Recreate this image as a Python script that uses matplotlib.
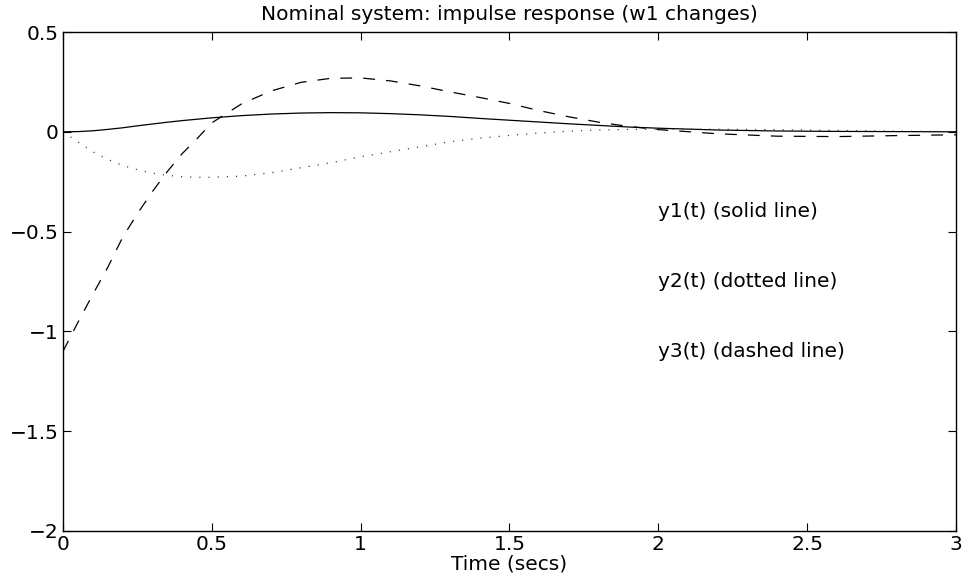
import matplotlib
matplotlib.use("Agg")
import matplotlib.pyplot as plt

# values
t = [0.0, 0.05, 0.1, 0.15, 0.2, 0.25, 0.3, 0.35, 0.4, 0.45, 0.5, 0.6, 0.7, 0.8,
     0.9, 1.0, 1.1, 1.2, 1.3, 1.4, 1.5, 1.6, 1.7, 1.8, 1.9, 2.0, 2.2, 2.4,
     2.6, 2.8, 3.0]

y1 = [0.0, 0.001, 0.005, 0.012, 0.02, 0.03, 0.039, 0.048, 0.056, 0.063, 0.07,
      0.081, 0.089, 0.094, 0.096, 0.095, 0.091, 0.085, 0.077, 0.067, 0.058,
      0.049, 0.04, 0.032, 0.024, 0.018, 0.009, 0.004, 0.002, 0.001, 0.0]

y2 = [0.0, -0.05, -0.1, -0.138, -0.168, -0.19, -0.207, -0.218, -0.225, -0.228,
      -0.228, -0.222, -0.205, -0.18, -0.155, -0.125, -0.1, -0.075, -0.05,
      -0.032, -0.018, -0.006, 0.003, 0.009, 0.012, 0.013, 0.013, 0.011, 0.007,
      0.003, 0.001]

y3 = [-1.1, -0.955, -0.815, -0.68, -0.53, -0.41, -0.3, -0.2, -0.11, -0.035,
      0.045, 0.14, 0.205, 0.248, 0.268, 0.27, 0.255, 0.23, 0.2, 0.172, 0.142,
      0.106, 0.075, 0.048, 0.027, 0.011, -0.01, -0.022, -0.024, -0.019, -0.015]

labels = ["y1(t) (solid line)", "y2(t) (dotted line)", "y3(t) (dashed line)"]
label_y = [-0.4, -0.75, -1.1]
xticks = [0, 0.5, 1, 1.5, 2, 2.5, 3]
yticks = [-2, -1.5, -1, -0.5, 0, 0.5]

plt.rcParams['font.family'] = ['DejaVu Sans']
plt.rcParams['font.size'] = 14.5
plt.rcParams['lines.scale_dashes'] = False

fig = plt.figure(figsize=(9.64, 5.77), dpi=100)
ax = fig.add_axes([63 / 964, 46 / 577, 893 / 964, 499 / 577])

ax.plot(t, y1, color='black', linewidth=0.9)
ax.plot(t, y2, color='0.2', linewidth=0.9, dashes=(0.8, 5.8))
ax.plot(t, y3, color='black', linewidth=0.9, dashes=(8.5, 8))

for txt, yy in zip(labels, label_y):
    ax.text(2.0, yy, txt, ha='left', va='center')

ax.set_xlim(0, 3)
ax.set_ylim(-2, 0.5)
ax.set_xticks(xticks)
ax.set_yticks(yticks)
ax.set_xticklabels(['0', '0.5', '1', '1.5', '2', '2.5', '3'])
ax.set_yticklabels(['\u22122', '\u22121.5', '\u22121', '\u22120.5', '0', '0.5'])
ax.tick_params(direction='in', length=5.5, width=0.8, top=True, right=True, pad=3)
for s in ax.spines.values():
    s.set_linewidth(1.0)

ax.set_title("Nominal system: impulse response (w1 changes)", fontsize=14.5, pad=9)
ax.set_xlabel("Time (secs)", labelpad=0)

fig.savefig("out.png", dpi=100)
